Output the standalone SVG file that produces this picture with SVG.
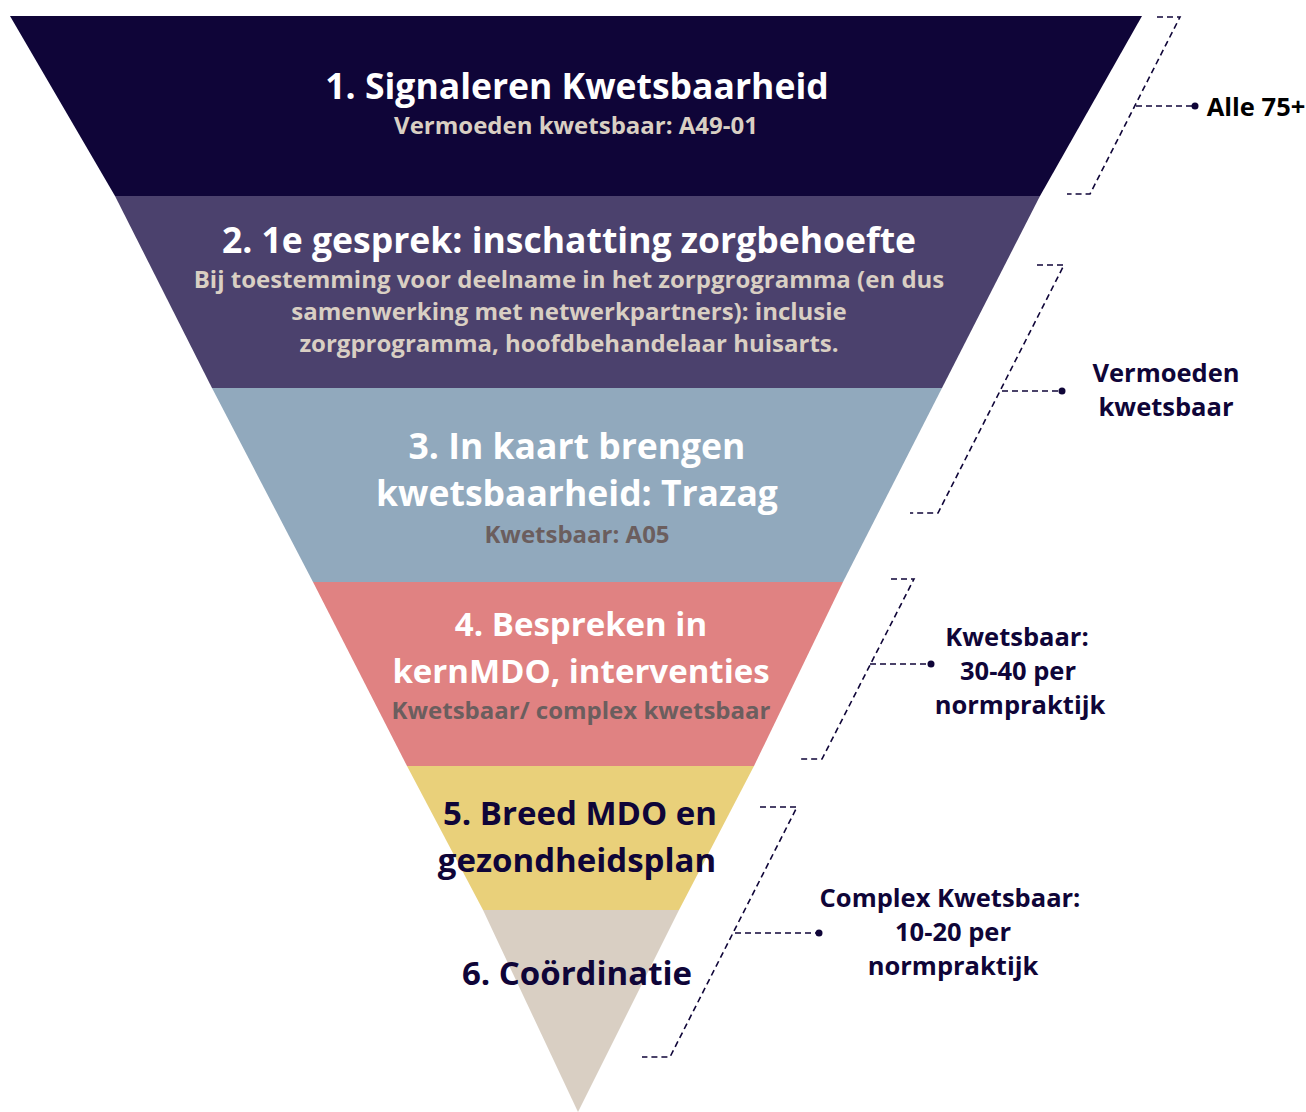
<svg xmlns="http://www.w3.org/2000/svg" width="1306" height="1112" viewBox="0 0 1306 1112">
<style>
text{font-family:"Open Sans","Noto Sans","DejaVu Sans",sans-serif;font-weight:700;text-anchor:middle}
.t{font-size:35.5px;fill:#ffffff}
.t2{font-size:33px;fill:#ffffff}
.td{font-size:33px;fill:#0f0538}
.s{font-size:24px;fill:#d9cfc3}
.g{font-size:24px;fill:#6b5e5e}
.l{font-size:25.5px;fill:#0f0538}
.br{fill:none;stroke:#0f0538;stroke-width:1.6;stroke-dasharray:6 4}
.dot{fill:#0f0538}
</style>
<rect width="1306" height="1112" fill="#ffffff"/>
<g id="layer1">
<polygon points="10,16 1142,16 1040,196 115,196" fill="#0f0538"/>
<text class="t" x="577" y="99">1. Signaleren Kwetsbaarheid</text>
<text class="s" x="576" y="134">Vermoeden kwetsbaar: A49-01</text>
</g>
<g id="layer2">
<polygon points="115,196 1040,196 942,388 212,388" fill="#4b416d"/>
<text class="t" x="569" y="253">2. 1e gesprek: inschatting zorgbehoefte</text>
<text class="s" x="569" y="288">Bij toestemming voor deelname in het zorpgrogramma (en dus</text>
<text class="s" x="569" y="320">samenwerking met netwerkpartners): inclusie</text>
<text class="s" x="569" y="352">zorgprogramma, hoofdbehandelaar huisarts.</text>
</g>
<g id="layer3">
<polygon points="212,388 942,388 843,582 313,582" fill="#91a9bd"/>
<text class="t" x="577" y="459">3. In kaart brengen</text>
<text class="t" x="577" y="506">kwetsbaarheid: Trazag</text>
<text class="g" x="577" y="543">Kwetsbaar: A05</text>
</g>
<g id="layer4">
<polygon points="313,582 843,582 754,766 407,766" fill="#e08282"/>
<text class="t2" x="581" y="636">4. Bespreken in</text>
<text class="t2" x="581" y="683">kernMDO, interventies</text>
<text class="g" x="581" y="719">Kwetsbaar/ complex kwetsbaar</text>
</g>
<g id="layer5">
<polygon points="407,766 754,766 679,910 483,910" fill="#e9d07a"/>
<text class="td" x="580" y="825">5. Breed MDO en</text>
<text class="td" x="577" y="872">gezondheidsplan</text>
</g>
<g id="layer6">
<polygon points="483,910 679,910 578,1112" fill="#d9cfc3"/>
<text class="td" x="577" y="985">6. Coördinatie</text>
</g>
<g id="connectors">
<polyline class="br" points="1157,17 1180,17 1090,194 1067,194"/>
<line class="br" x1="1136" y1="106" x2="1194" y2="106"/>
<circle class="dot" cx="1195" cy="106" r="3.5"/>
<polyline class="br" points="1037,265 1064,265 938,513 910,513"/>
<line class="br" x1="1002" y1="391" x2="1061" y2="391"/>
<circle class="dot" cx="1062" cy="391" r="3.5"/>
<polyline class="br" points="891,579 914,579 822,759 798,759"/>
<line class="br" x1="870" y1="664" x2="930" y2="664"/>
<circle class="dot" cx="931" cy="664" r="3.5"/>
<polyline class="br" points="760,807 797,807 670,1057 642,1057"/>
<line class="br" x1="735" y1="933" x2="818" y2="933"/>
<circle class="dot" cx="819" cy="933" r="3.5"/>
</g>
<g id="label1">
<text class="l" x="1256" y="116" style="fill:#000000">Alle 75+</text>
</g>
<g id="label2">
<text class="l" x="1166" y="382">Vermoeden</text>
<text class="l" x="1166" y="416">kwetsbaar</text>
</g>
<g id="label3">
<text class="l" x="1017" y="646">Kwetsbaar:</text>
<text class="l" x="1018" y="680">30-40 per</text>
<text class="l" x="1020" y="714">normpraktijk</text>
</g>
<g id="label4">
<text class="l" x="950" y="907">Complex Kwetsbaar:</text>
<text class="l" x="953" y="941">10-20 per</text>
<text class="l" x="953" y="975">normpraktijk</text>
</g>
</svg>
